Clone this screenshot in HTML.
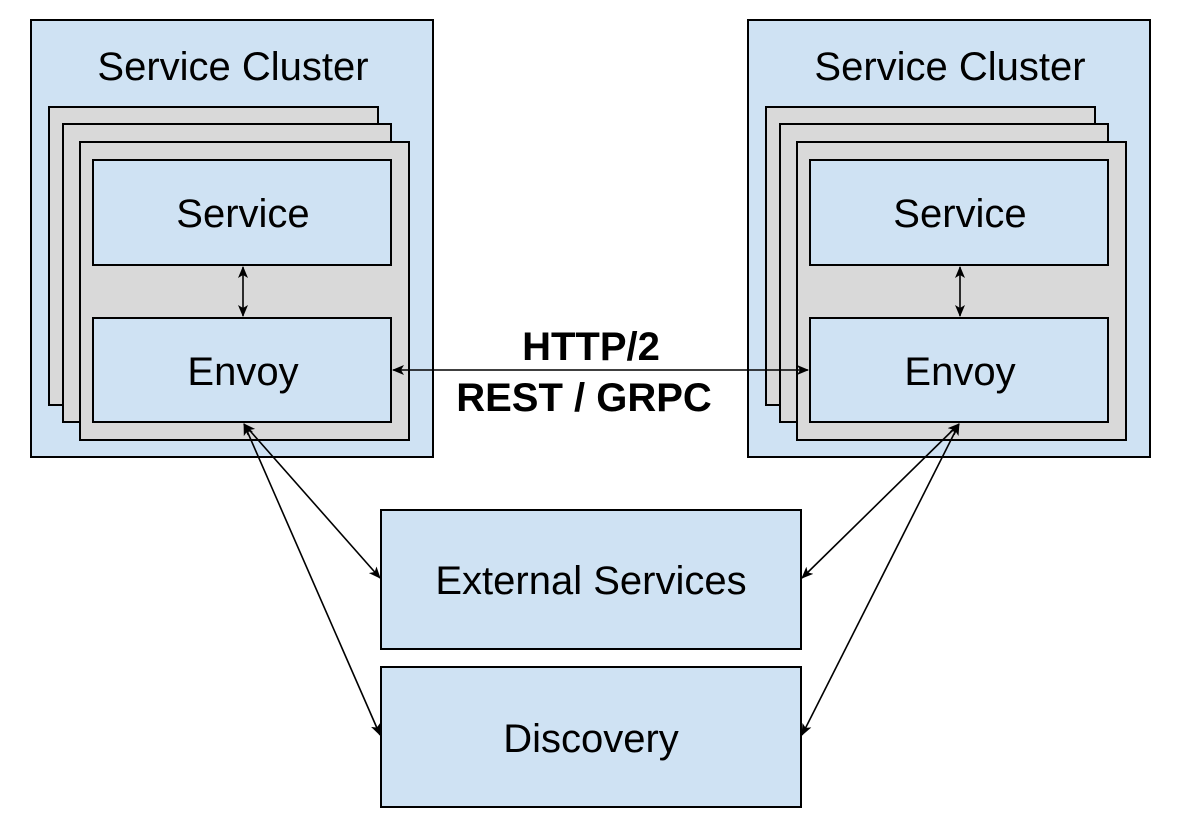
<!DOCTYPE html>
<html><head><meta charset="utf-8"><style>
html,body{margin:0;padding:0;background:#fff;}
svg{display:block;}
text{font-family:"Liberation Sans",Arial,sans-serif;fill:#000;}
</style></head><body>
<svg width="1184" height="836" viewBox="0 0 1184 836" xmlns="http://www.w3.org/2000/svg">
<defs>
<marker id="a" viewBox="0 0 12 10" refX="11" refY="5" markerWidth="12" markerHeight="10" markerUnits="userSpaceOnUse" orient="auto-start-reverse">
<path d="M0,0 L12,5 L0,10 L3,5 Z" fill="#000"/>
</marker>
</defs>
<g stroke="#000" stroke-width="2">
<rect x="31" y="20" width="402" height="437" fill="#cfe2f3"/>
<rect x="49" y="107" width="329" height="298" fill="#d9d9d9"/>
<rect x="63" y="124" width="328" height="298" fill="#d9d9d9"/>
<rect x="80" y="142" width="329" height="298" fill="#d9d9d9"/>
<rect x="93" y="160" width="298" height="105" fill="#cfe2f3"/>
<rect x="93" y="318" width="298" height="104" fill="#cfe2f3"/>

<rect x="748" y="20" width="402" height="437" fill="#cfe2f3"/>
<rect x="766" y="107" width="329" height="298" fill="#d9d9d9"/>
<rect x="780" y="124" width="328" height="298" fill="#d9d9d9"/>
<rect x="797" y="142" width="329" height="298" fill="#d9d9d9"/>
<rect x="810" y="160" width="298" height="105" fill="#cfe2f3"/>
<rect x="810" y="318" width="298" height="104" fill="#cfe2f3"/>

<rect x="381" y="510" width="420" height="139" fill="#cfe2f3"/>
<rect x="381" y="667" width="420" height="140" fill="#cfe2f3"/>
</g>
<g stroke="#000" stroke-width="1.6" fill="none" marker-start="url(#a)" marker-end="url(#a)">
<line x1="243" y1="267" x2="243" y2="316"/>
<line x1="960" y1="267" x2="960" y2="316"/>
<line x1="393" y1="370" x2="808" y2="370"/>
<line x1="244" y1="424" x2="380" y2="578"/>
<line x1="244" y1="424" x2="380" y2="735"/>
<line x1="959" y1="424" x2="802" y2="578"/>
<line x1="959" y1="424" x2="802" y2="735"/>
</g>
<g font-size="40" text-anchor="middle">
<text x="233" y="80">Service Cluster</text>
<text x="950" y="80">Service Cluster</text>
<text x="243" y="227">Service</text>
<text x="960" y="227">Service</text>
<text x="243" y="385">Envoy</text>
<text x="960" y="385">Envoy</text>
<text x="591" y="594">External Services</text>
<text x="591" y="752">Discovery</text>
<text x="591" y="360" font-weight="bold">HTTP/2</text>
<text x="584" y="411" font-weight="bold">REST / GRPC</text>
</g>
</svg>
</body></html>
